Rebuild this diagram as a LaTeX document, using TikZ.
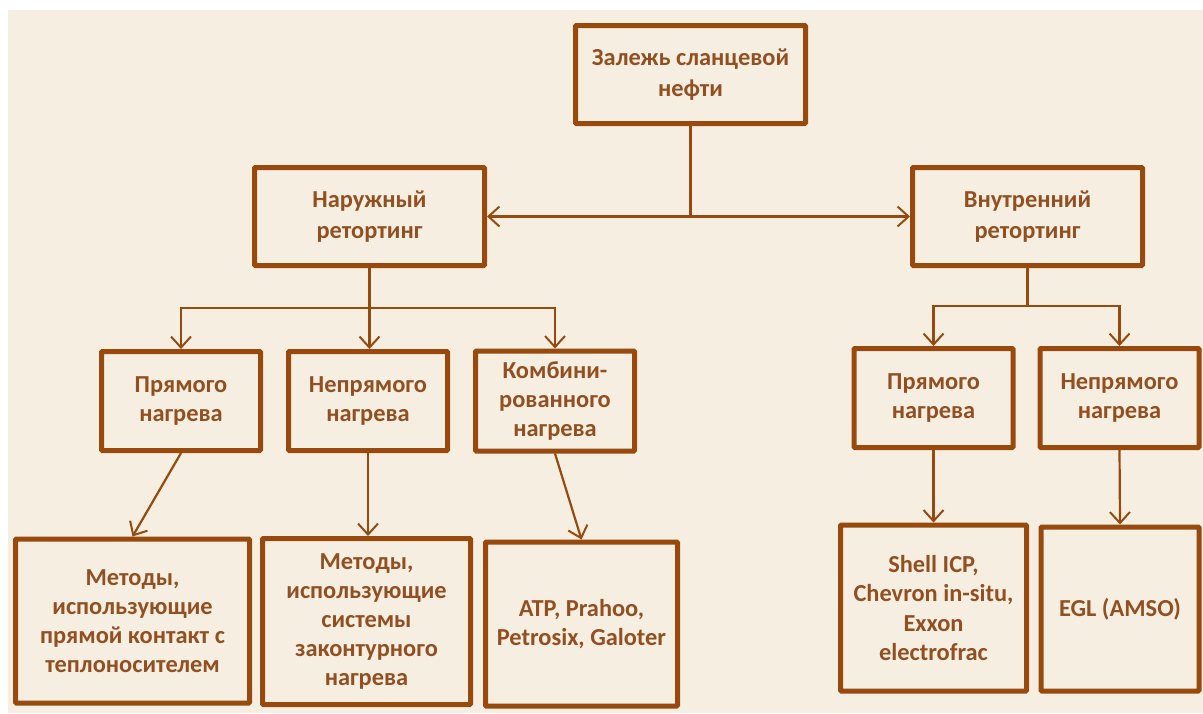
\documentclass[tikz,border=0pt]{standalone}
\usepackage{fontspec}
\setmainfont{Carlito}
\usepackage{xcolor}
\usetikzlibrary{positioning,arrows.meta,calc}

\definecolor{shaleline}{RGB}{152,74,14}
\definecolor{shaletext}{RGB}{146,80,34}
\definecolor{shalebg}{RGB}{246,239,225}

\begin{document}
\begin{tikzpicture}[
      x=0.5pt, y=-0.5pt,
      font=\fontsize{12.2}{14.6}\selectfont\bfseries,
      box/.style={draw=shaleline, line width=2.5pt, rounded corners=0.5pt, align=center,
        text=shaletext, inner sep=0pt},
      head/.style={box, minimum width=115pt, minimum height=49pt,
        font=\fontsize{12.2}{15.2}\selectfont\bfseries},
      kind/.style={box, minimum width=79.5pt, minimum height=49.5pt},
      meth/.style={box, minimum height=82pt},
      arr/.style={-{Straight Barb[length=5.5pt, width=10pt, line width=1pt]}, draw=shaleline, line width=1.1pt}
    ]
    % background
    \fill[white] (0,0) rectangle (1203,713);
    \fill[shalebg] (8,10) rectangle (1203,713);
    \useasboundingbox (0,0) rectangle (1203,713);
    % root and two kinds of retorting
    \node[head] (root) at (690.5,74.5) {Залежь сланцевой\\нефти};
    \node[head] (outer) at (369.5,216.5) {Наружный\\ретортинг};
    \node[head] (inner) at (1027.5,216.5) {Внутренний\\ретортинг};
    % heating, outer retorting
    \node[kind] (odirect) at (181,401) {Прямого\\нагрева};
    \node[kind] (oindirect) at (368,401) {Непрямого\\нагрева};
    \node[kind, minimum height=50pt] (ocomb) at (555,401) {Комбини-\\рованного\\нагрева};
    % heating, inner retorting
    \node[kind] (idirect) at (933.5,398) {Прямого\\нагрева};
    \node[kind] (iindirect) at (1119.5,398) {Непрямого\\нагрева};
    % methods
    \node[meth, minimum width=117pt] (mcontact) at (132.5,621) {Методы,\\использующие\\прямой контакт с\\теплоносителем};
    \node[meth, minimum width=104pt, minimum height=83pt] (mcontour) at (366.5,621.5) {Методы,\\использующие\\системы\\законтурного\\нагрева};
    \node[meth, minimum width=96pt] (matp) at (581.5,624) {ATP, Prahoo,\\Petrosix, Galoter};
    \node[meth, minimum width=93pt, minimum height=83pt] (mshell) at (933.5,608) {Shell ICP,\\Chevron in-situ,\\Exxon\\electrofrac};
    \node[meth, minimum width=79pt] (megl) at (1120,609) {EGL (AMSO)};
    % junctions
    \path (outer.south) ++(0,40) coordinate (jouter);
    \path (inner.south) ++(0,38) coordinate (jinner);
    % edges
    \draw[arr] (root.south) |- (outer.east);
    \draw[arr] (root.south) |- (inner.west);
    \draw[arr] (outer.south) -- (outer.south |- oindirect.north);
    \draw[arr] (jouter) -| (odirect.north);
    \draw[arr] (jouter) -| (ocomb.north);
    \draw[shaleline, line width=1.1pt] (inner.south) -- (jinner);
    \draw[arr] (jinner) -| (idirect.north);
    \draw[arr] (jinner) -| (iindirect.north);
    \draw[arr] (odirect.south) -- (mcontact.north);
    \draw[arr] (oindirect.south) -- (oindirect.south |- mcontour.north);
    \draw[arr] (ocomb.south) -- (matp.north);
    \draw[arr] (idirect.south) -- (mshell.north);
    \draw[arr] (iindirect.south) -- (megl.north);
  \end{tikzpicture}
\end{document}
